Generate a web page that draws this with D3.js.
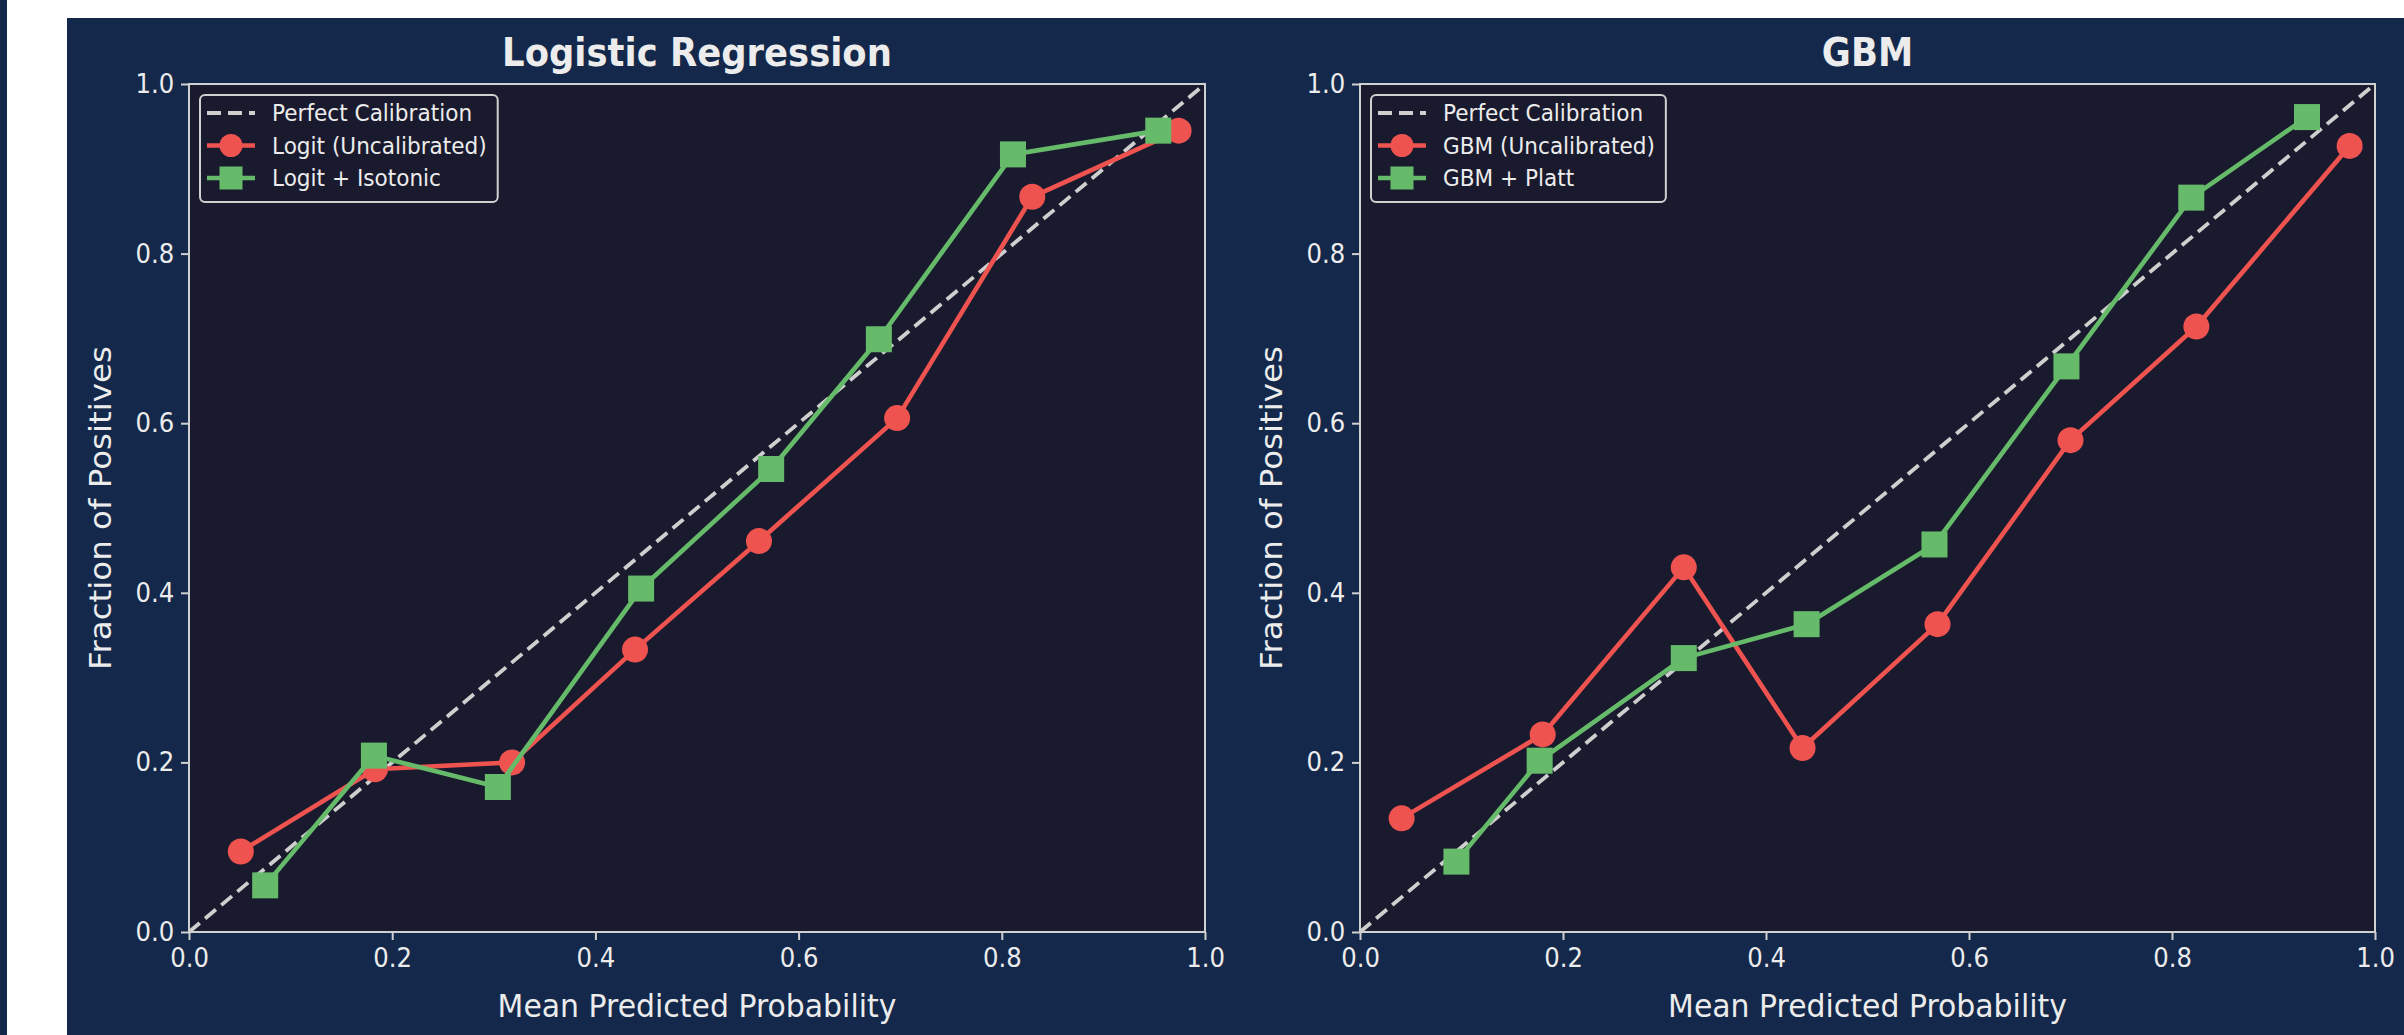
<!DOCTYPE html>
<html>
<head>
<meta charset="utf-8">
<script src="https://cdn.jsdelivr.net/npm/d3@7"></script>
<style>
  html, body { margin: 0; padding: 0; background: #ffffff; }
  svg { display: block; }
  text { font-family: "DejaVu Sans", sans-serif; fill: #ececec; }
</style>
</head>
<body>
<svg id="chart"></svg>
<script>
// calibration curves
const ticks = [0.0, 0.2, 0.4, 0.6, 0.8, 1.0];

const logitUncalX = [0.051, 0.183, 0.318, 0.439, 0.561, 0.697, 0.830, 0.974];
const logitUncalY = [0.095, 0.192, 0.200, 0.333, 0.461, 0.606, 0.867, 0.945];
const logitIsoX = [0.075, 0.182, 0.304, 0.445, 0.573, 0.679, 0.811, 0.954];
const logitIsoY = [0.055, 0.208, 0.171, 0.405, 0.546, 0.699, 0.917, 0.945];

const gbmUncalX = [0.041, 0.180, 0.319, 0.436, 0.569, 0.700, 0.824, 0.975];
const gbmUncalY = [0.134, 0.233, 0.430, 0.217, 0.363, 0.580, 0.714, 0.927];
const gbmPlattX = [0.095, 0.177, 0.319, 0.440, 0.566, 0.696, 0.819, 0.933];
const gbmPlattY = [0.083, 0.202, 0.323, 0.363, 0.457, 0.667, 0.866, 0.961];

const W = 2404, H = 1035;
const figBg = '#13284a';
const axBg = '#1a1a2e';
const spine = '#d0d0d0';
const red = '#ef5350';
const green = '#66bb6a';
const sx = 0.92; // text in the reference is slightly narrow

const zip = (xs, ys) => xs.map((x, i) => ({ x, y: ys[i] }));

const panels = [
  {
    title: 'Logistic Regression', left: 189, right: 1205,
    uncal: { name: 'Logit (Uncalibrated)', data: zip(logitUncalX, logitUncalY) },
    cal: { name: 'Logit + Isotonic', data: zip(logitIsoX, logitIsoY) }
  },
  {
    title: 'GBM', left: 1360, right: 2375,
    uncal: { name: 'GBM (Uncalibrated)', data: zip(gbmUncalX, gbmUncalY) },
    cal: { name: 'GBM + Platt', data: zip(gbmPlattX, gbmPlattY) }
  }
];
const plotTop = 84, plotBottom = 932;

const svg = d3.select('#chart').attr('width', W).attr('height', H);

// page background + figure
svg.append('rect').attr('width', W).attr('height', H).attr('fill', '#ffffff');
svg.append('rect').attr('width', 7).attr('height', H).attr('fill', figBg);
svg.append('rect').attr('x', 67).attr('y', 18).attr('width', W - 67).attr('height', H - 18).attr('fill', figBg);

function squeezedText(g, x, y, str, size, opts = {}) {
  return g.append('text')
    .attr('transform', `translate(${x},${y}) ${opts.rotate ? 'rotate(-90) scale(1,' + sx + ')' : 'scale(' + sx + ',1)'}`)
    .attr('text-anchor', opts.anchor || 'start')
    .style('font-size', size + 'px')
    .style('font-weight', opts.bold ? 'bold' : 'normal')
    .text(str);
}

panels.forEach(p => {
  const x = d3.scaleLinear().domain([0, 1]).range([p.left, p.right]);
  const y = d3.scaleLinear().domain([0, 1]).range([plotBottom, plotTop]);
  const g = svg.append('g');

  g.append('rect')
    .attr('x', p.left).attr('y', plotTop)
    .attr('width', p.right - p.left).attr('height', plotBottom - plotTop)
    .attr('fill', axBg);

  // perfect calibration diagonal
  g.append('line')
    .attr('x1', x(0)).attr('y1', y(0)).attr('x2', x(1)).attr('y2', y(1))
    .attr('stroke', '#cfcfcf').attr('stroke-width', 3.8)
    .attr('stroke-dasharray', '14,7');

  const line = d3.line().x(d => x(d.x)).y(d => y(d.y));

  // uncalibrated (circles)
  g.append('path').datum(p.uncal.data)
    .attr('d', line).attr('fill', 'none')
    .attr('stroke', red).attr('stroke-width', 4.6).attr('stroke-linejoin', 'round');
  g.selectAll('circle.pt').data(p.uncal.data).enter().append('circle')
    .attr('class', 'pt')
    .attr('cx', d => x(d.x)).attr('cy', d => y(d.y))
    .attr('r', 13).attr('fill', red);

  // calibrated (squares)
  g.append('path').datum(p.cal.data)
    .attr('d', line).attr('fill', 'none')
    .attr('stroke', green).attr('stroke-width', 4.6).attr('stroke-linejoin', 'round');
  g.selectAll('rect.pt').data(p.cal.data).enter().append('rect')
    .attr('class', 'pt')
    .attr('x', d => x(d.x) - 13).attr('y', d => y(d.y) - 13)
    .attr('width', 26).attr('height', 26).attr('fill', green);

  // spines
  g.append('rect')
    .attr('x', p.left).attr('y', plotTop)
    .attr('width', p.right - p.left).attr('height', plotBottom - plotTop)
    .attr('fill', 'none').attr('stroke', spine).attr('stroke-width', 2);

  // axes
  const xAxis = g.append('g')
    .attr('transform', `translate(0,${plotBottom})`)
    .call(d3.axisBottom(x).tickValues(ticks).tickFormat(d3.format('.1f')).tickSize(8).tickSizeOuter(0).tickPadding(8));
  const yAxis = g.append('g')
    .attr('transform', `translate(${p.left},0)`)
    .call(d3.axisLeft(y).tickValues(ticks).tickFormat(d3.format('.1f')).tickSize(8).tickSizeOuter(0).tickPadding(8));
  [xAxis, yAxis].forEach(a => {
    a.select('.domain').remove();
    a.selectAll('.tick line').attr('stroke', spine).attr('stroke-width', 2);
    a.selectAll('.tick text')
      .attr('fill', '#ececec')
      .attr('transform', `scale(${sx},1)`)
      .style('font-family', '"DejaVu Sans", sans-serif')
      .style('font-size', '26.5px');
  });

  // titles and labels
  const cx = (p.left + p.right) / 2;
  squeezedText(g, cx, 66, p.title, 38.5, { anchor: 'middle', bold: true });
  squeezedText(g, cx, 1017, 'Mean Predicted Probability', 32.5, { anchor: 'middle' });
  squeezedText(g, p.left - 78, (plotTop + plotBottom) / 2, 'Fraction of Positives', 32.5, { anchor: 'middle', rotate: true });

  // legend
  const lx = p.left + 11, ly = plotTop + 11;
  const lg = g.append('g');
  const box = lg.append('rect')
    .attr('x', lx).attr('y', ly).attr('height', 107).attr('rx', 5)
    .attr('fill', axBg).attr('stroke', spine).attr('stroke-width', 2);
  const items = [
    { name: 'Perfect Calibration', type: 'dash' },
    { name: p.uncal.name, type: 'circle' },
    { name: p.cal.name, type: 'square' }
  ];
  let maxW = 0;
  items.forEach((it, i) => {
    const ry = ly + 18 + i * 32.5;
    const hx0 = lx + 7, hx1 = lx + 55, hm = (hx0 + hx1) / 2;
    if (it.type === 'dash') {
      lg.append('line').attr('x1', hx0).attr('x2', hx1).attr('y1', ry).attr('y2', ry)
        .attr('stroke', '#cfcfcf').attr('stroke-width', 3.8).attr('stroke-dasharray', '14,7');
    } else {
      const c = it.type === 'circle' ? red : green;
      lg.append('line').attr('x1', hx0).attr('x2', hx1).attr('y1', ry).attr('y2', ry)
        .attr('stroke', c).attr('stroke-width', 4.6);
      if (it.type === 'circle') {
        lg.append('circle').attr('cx', hm).attr('cy', ry).attr('r', 11.5).attr('fill', c);
      } else {
        lg.append('rect').attr('x', hm - 11.5).attr('y', ry - 11.5).attr('width', 23).attr('height', 23).attr('fill', c);
      }
    }
    const t = squeezedText(lg, lx + 72, ry + 8, it.name, 23.5);
    maxW = Math.max(maxW, t.node().getComputedTextLength() * sx);
  });
  box.attr('width', 72 + maxW + 11);
});
</script>
</body>
</html>
